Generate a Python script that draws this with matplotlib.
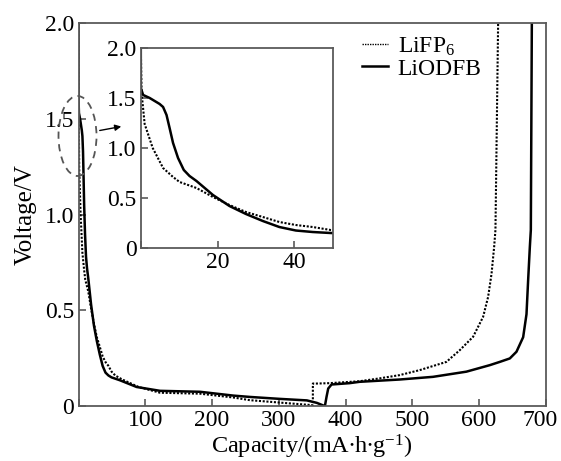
import numpy as np
import matplotlib
matplotlib.use('Agg')
import matplotlib.pyplot as plt
import matplotlib.transforms as mtransforms
from matplotlib.patches import Ellipse, FancyArrowPatch

plt.rcParams['font.family'] = ['Liberation Serif', 'DejaVu Serif']
plt.rcParams['mathtext.fontset'] = 'custom'
plt.rcParams['mathtext.rm'] = 'Liberation Serif'
plt.rcParams['mathtext.it'] = 'Liberation Serif:italic'

# LiODFB (solid), discharge then charge
odfb_cap = [0, 0, 0.6, 2.3, 4.9, 5.8, 6.7, 7.5, 8.4, 9.7, 11.2, 12.7, 14.5, 18.8,
            23.1, 27.4, 31.8, 36.1, 40.4, 44.8, 49.5, 62, 87, 122, 182, 232, 257,
            301, 342, 357, 369,
            371.5, 374, 379, 406, 421, 481, 531, 581, 616, 631, 646, 656, 666,
            671, 673.5, 676, 677.5, 679]
odfb_volt = [2.0, 1.6, 1.53, 1.50, 1.44, 1.41, 1.33, 1.20, 1.05, 0.90, 0.78, 0.72,
             0.67, 0.53, 0.42, 0.34, 0.27, 0.21, 0.175, 0.16, 0.15, 0.135, 0.10,
             0.08, 0.075, 0.055, 0.048, 0.038, 0.03, 0.017, 0.0,
             0.049, 0.092, 0.113, 0.12, 0.127, 0.139, 0.153, 0.18, 0.214, 0.231,
             0.249, 0.284, 0.36, 0.48, 0.66, 0.83, 0.92, 2.0]

# LiPF6 (dotted)
pf6_cap = [0, 0.2, 1.0, 3.1, 5.8, 8.4, 10.1, 14.5, 18.8, 23.1, 27.4, 31.8, 36.1,
           40.4, 44.8, 49.5, 55, 65, 90, 122, 182, 232, 257, 307, 351,
           351, 357, 376, 421, 451, 481, 511, 551, 571, 591, 606, 613.5, 618.6,
           622.5, 624.5, 628.5]
pf6_volt = [2.0, 1.55, 1.24, 1.0, 0.80, 0.71, 0.66, 0.60, 0.51, 0.43, 0.36, 0.31,
            0.26, 0.23, 0.21, 0.18, 0.16, 0.14, 0.10, 0.07, 0.065, 0.045, 0.031,
            0.017, 0.005,
            0.118, 0.118, 0.12, 0.13, 0.145, 0.162, 0.188, 0.231, 0.292, 0.362,
            0.466, 0.57, 0.69, 0.83, 0.92, 2.0]

main_xticks = [0, 100, 200, 300, 400, 500, 600, 700]
main_yticks = [0, 0.5, 1.0, 1.5, 2.0]
inset_xticks = [0, 20, 40]
inset_yticks = [0, 0.5, 1.0, 1.5, 2.0]

spine_col = '#5a5a5a'
fs = 17
dot_ls = (0, (1, 0.8))


def style_axes(ax):
    for s in ax.spines.values():
        s.set_color(spine_col)
        s.set_linewidth(1.3)
    ax.tick_params(direction='in', length=5, width=1.2, color=spine_col,
                   labelsize=fs, pad=3)


def fmt(v):
    return '0' if v == 0 else '%.1f' % v


fig = plt.figure(figsize=(5.61, 4.61), dpi=100)
ax = fig.add_axes([0.140, 0.119, 0.833, 0.831])
ax.plot(pf6_cap, pf6_volt, color='black', lw=1.5, ls=dot_ls, label=r'LiFP$_\mathrm{6}$')
ax.plot(odfb_cap, odfb_volt, color='black', lw=1.8, label='LiODFB')
ax.set_xlim(0, 700)
ax.set_ylim(0, 2.0)
ax.set_xticks(main_xticks)
ax.set_xticklabels([''] + [str(t) for t in main_xticks[1:]])
ax.set_yticks(main_yticks)
ax.set_yticklabels([fmt(t) for t in main_yticks])
style_axes(ax)
ax.set_xlabel(r'Capacity/(mA$\bullet$h$\bullet$g$^{-1}$)', fontsize=17.5, labelpad=1)
ax.set_ylabel('Voltage/V', fontsize=18, labelpad=6)

# nudge the last x label so it stays inside the picture
last = ax.get_xticklabels()[-1]
last.set_transform(last.get_transform() +
                   mtransforms.ScaledTranslation(-4 / 72, 0, fig.dpi_scale_trans))

leg = ax.legend(loc='upper left', bbox_to_anchor=(0.607, 0.967), frameon=False,
                fontsize=fs, handlelength=1.1, handletextpad=0.4,
                labelspacing=0.0, borderpad=0, borderaxespad=0)
leg.get_lines()[0].set_linewidth(1.0)

ins = fig.add_axes([0.251, 0.462, 0.342, 0.434])
ins.plot(pf6_cap, pf6_volt, color='black', lw=1.5, ls=dot_ls)
ins.plot(odfb_cap, odfb_volt, color='black', lw=1.8)
ins.set_xlim(0, 50)
ins.set_ylim(0, 2.0)
ins.set_xticks(inset_xticks)
ins.set_xticklabels([''] + [str(t) for t in inset_xticks[1:]])
ins.set_yticks(inset_yticks)
ins.set_yticklabels([fmt(t) for t in inset_yticks])
style_axes(ins)

ell = Ellipse((77.5 / 561, 1 - 136 / 461), 38 / 561, 80 / 461,
              transform=fig.transFigure, fill=False, ls=(0, (4, 3)),
              ec='#555555', lw=1.3)
fig.add_artist(ell)
fig.add_artist(FancyArrowPatch(
    (97 / 561, 1 - 131 / 461), (124 / 561, 1 - 126 / 461),
    transform=fig.transFigure, arrowstyle='-|>', mutation_scale=9,
    color='black', lw=1.0))

fig.savefig('out.png', dpi=100)
